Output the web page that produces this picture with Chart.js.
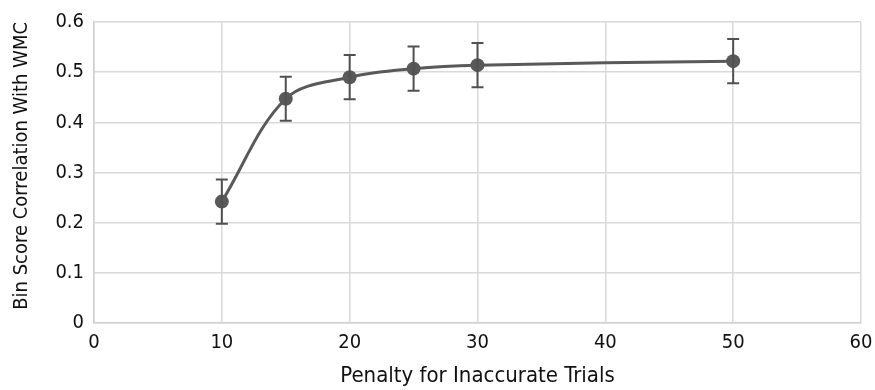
<!DOCTYPE html>
<html>
<head>
<meta charset="utf-8">
<script src="https://cdn.jsdelivr.net/npm/chart.js@4.4.0/dist/chart.umd.min.js"></script>
<style>
  html, body { margin: 0; padding: 0; background: #fff; }
  #wrap { width: 875px; height: 390px; }
</style>
</head>
<body>
<div id="wrap"><canvas id="chart"></canvas></div>
<script>
// Penalty levels and correlation values
const penalties = [10, 15, 20, 25, 30, 50];
const correlations = [0.242, 0.447, 0.490, 0.507, 0.514, 0.522];
const errors = [0.044, 0.044, 0.044, 0.044, 0.044, 0.044];

const xTicks = [0, 10, 20, 30, 40, 50, 60];
const yTicks = [0, 0.1, 0.2, 0.3, 0.4, 0.5, 0.6];

const FONT = "'DejaVu Sans Condensed', 'Liberation Sans Narrow', 'Liberation Sans', sans-serif";
const LINE_COLOR = '#595959';

// simple error bar drawing, uses the chart scales for positions
const errorBars = {
  id: 'errorBars',
  afterDatasetsDraw(chart) {
    const ctx = chart.ctx;
    const xs = chart.scales.x;
    const ys = chart.scales.y;
    ctx.save();
    ctx.strokeStyle = '#505050';
    ctx.lineWidth = 2;
    penalties.forEach((p, i) => {
      const x = xs.getPixelForValue(p);
      const top = ys.getPixelForValue(correlations[i] + errors[i]);
      const bot = ys.getPixelForValue(correlations[i] - errors[i]);
      ctx.beginPath();
      ctx.moveTo(x, top);
      ctx.lineTo(x, bot);
      ctx.moveTo(x - 6, top);
      ctx.lineTo(x + 6, top);
      ctx.moveTo(x - 6, bot);
      ctx.lineTo(x + 6, bot);
      ctx.stroke();
    });
    ctx.restore();
  }
};

const points = penalties.map((p, i) => ({ x: p, y: correlations[i] }));

new Chart(document.getElementById('chart'), {
  type: 'scatter',
  data: {
    datasets: [{
      data: points,
      showLine: true,
      borderColor: LINE_COLOR,
      backgroundColor: LINE_COLOR,
      borderWidth: 3,
      tension: 0.35,
      pointRadius: 7,
      pointHoverRadius: 7,
      pointBorderWidth: 0
    }]
  },
  plugins: [errorBars],
  options: {
    responsive: true,
    maintainAspectRatio: false,
    animation: false,
    layout: { padding: { top: 21, right: 14, left: 0, bottom: 0 } },
    plugins: {
      legend: { display: false },
      tooltip: { enabled: false }
    },
    scales: {
      x: {
        type: 'linear',
        min: 0,
        max: 60,
        afterBuildTicks: axis => { axis.ticks = xTicks.map(v => ({ value: v })); },
        grid: { color: '#d9d9d9', lineWidth: 1.5, drawTicks: false },
        border: { color: '#d0d0d0', width: 1.5 },
        ticks: { color: '#111', padding: 8, font: { family: FONT, size: 20 } },
        title: { display: true, text: 'Penalty for Inaccurate Trials', color: '#111', padding: { top: 2, bottom: 1 }, font: { family: FONT, size: 22 } },
        afterFit: axis => { axis.height = 67; axis.paddingRight = 0; axis.paddingLeft = 0; }
      },
      y: {
        min: 0,
        max: 0.6,
        afterBuildTicks: axis => { axis.ticks = yTicks.map(v => ({ value: v })); },
        grid: { color: '#d9d9d9', lineWidth: 1.5, drawTicks: false },
        border: { color: '#d0d0d0', width: 1.5 },
        ticks: { color: '#111', padding: 10, font: { family: FONT, size: 20 }, callback: v => String(v) },
        title: { display: true, text: 'Bin Score Correlation With WMC', align: 'end', color: '#111', padding: { top: 10, bottom: 4 }, font: { family: FONT, size: 20 } },
        afterFit: axis => { axis.width = 94; }
      }
    }
  }
});
</script>
</body>
</html>
